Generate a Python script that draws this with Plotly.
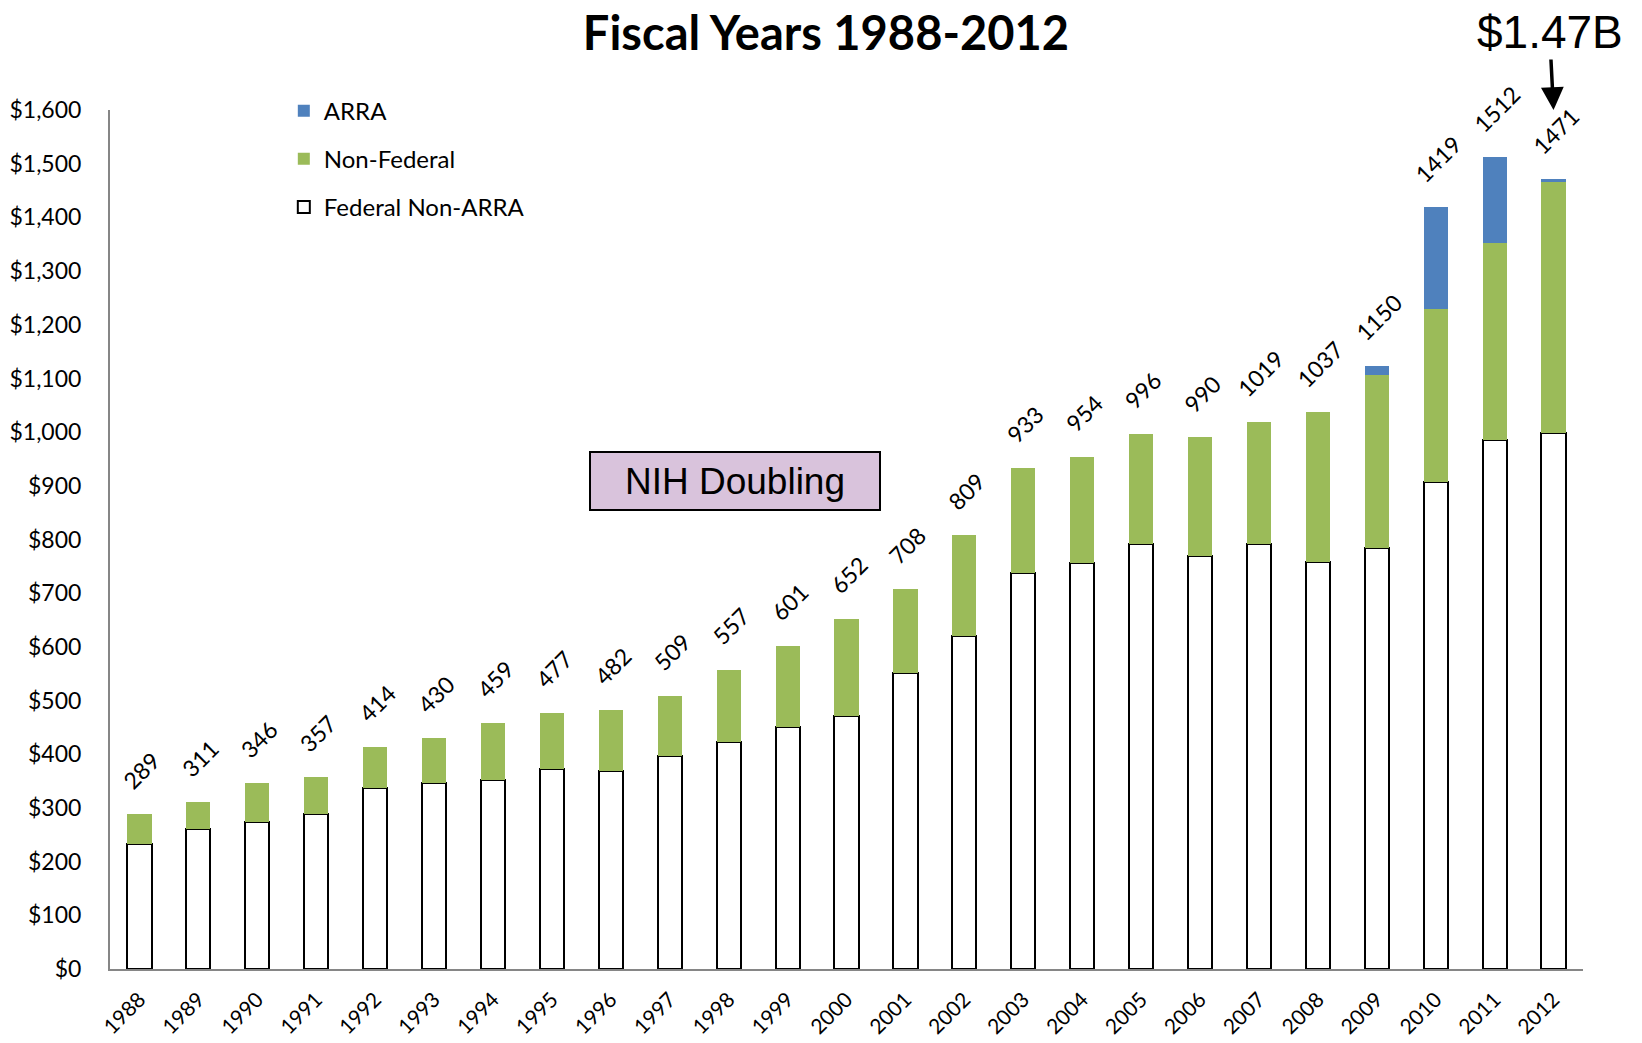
import plotly.graph_objects as go

# Fiscal years and stacked components ($ millions)
years = list(range(1988, 2013))
federal_non_arra = [233, 260, 273, 289, 338, 347, 352, 373, 369, 396, 422, 450,
                    472, 552, 620, 737, 757, 792, 769, 791, 758, 785, 908, 986, 998]
non_federal = [56, 51, 73, 68, 76, 83, 107, 104, 113, 113, 135, 151,
               180, 156, 189, 196, 197, 204, 221, 228, 279, 322, 321, 367, 467]
arra = [0] * 21 + [17, 190, 159, 6]
# numbers printed above each bar
total_labels = [289, 311, 346, 357, 414, 430, 459, 477, 482, 509, 557, 601,
                652, 708, 809, 933, 954, 996, 990, 1019, 1037, 1150, 1419, 1512, 1471]

BLUE = "#4F81BD"
GREEN = "#9BBB59"
FONT = "Lato"

fig = go.Figure()
fig.add_trace(go.Bar(x=years, y=federal_non_arra, name="Federal Non-ARRA",
                     legendgroup="c", legendrank=3,
                     marker=dict(color="white", line=dict(color="black", width=2))))
fig.add_trace(go.Bar(x=years, y=non_federal, name="Non-Federal",
                     legendgroup="b", legendrank=2,
                     marker=dict(color=GREEN, line_width=0)))
fig.add_trace(go.Bar(x=years, y=arra, name="ARRA",
                     legendgroup="a", legendrank=1,
                     marker=dict(color=BLUE, line_width=0)))

# rotated total labels above the bars
for yr, f, n, a, lab in zip(years, federal_non_arra, non_federal, arra, total_labels):
    fig.add_annotation(x=yr, y=f + n + a, text=str(lab), showarrow=False,
                       textangle=-45, xanchor="center", yanchor="bottom",
                       yshift=17, xshift=2, font=dict(family=FONT, size=23, color="black"))

# NIH Doubling box
fig.add_annotation(xref="paper", yref="paper", x=0.4243, y=0.568,
                   text="NIH Doubling", showarrow=False,
                   font=dict(family="Liberation Sans", size=37, color="black"),
                   bgcolor="#D9C3DC", bordercolor="black", borderwidth=2,
                   width=280, height=48, borderpad=4)

# $1.47B call-out with arrow
fig.add_annotation(x=2012, y=1600, text="$1.47B", showarrow=True,
                   ax=-4, ay=-78, arrowhead=2, arrowsize=1.3, arrowwidth=3.5,
                   arrowcolor="black", standoff=0,
                   font=dict(family="Liberation Sans", size=46, color="black"))

fig.update_layout(
    barmode="stack",
    bargap=0.59,
    width=1642, height=1043,
    margin=dict(l=110, r=59, t=110, b=74),
    paper_bgcolor="white", plot_bgcolor="white",
    title=dict(text="<b>Fiscal Years 1988-2012</b>", x=0.503, xanchor="center",
               y=0.968, yanchor="middle",
               font=dict(family=FONT, size=47, color="black")),
    legend=dict(x=0.118, y=1.025, xanchor="left", yanchor="top",
                traceorder="grouped", tracegroupgap=14,
                font=dict(family=FONT, size=24, color="black"),
                bgcolor="rgba(0,0,0,0)", itemwidth=30),
    showlegend=True,
)
fig.update_yaxes(range=[0, 1600], dtick=100, tickprefix="$", tickformat=",d",
                 showgrid=False, zeroline=False, showline=True, automargin=False,
                 linecolor="#868686", linewidth=2, ticks="", ticklabelstandoff=22,
                 tickfont=dict(family=FONT, size=23, color="black"))
fig.update_xaxes(range=[1987.5, 2012.5], dtick=1, tickangle=-45, showgrid=False,
                 zeroline=False, showline=True, automargin=False,
                 linecolor="#868686", linewidth=2, ticks="", ticklabelstandoff=8,
                 tickfont=dict(family=FONT, size=21, color="black"))

fig.write_html("out.html", config={"displayModeBar": False},
               post_script="document.body.style.margin='0';")
